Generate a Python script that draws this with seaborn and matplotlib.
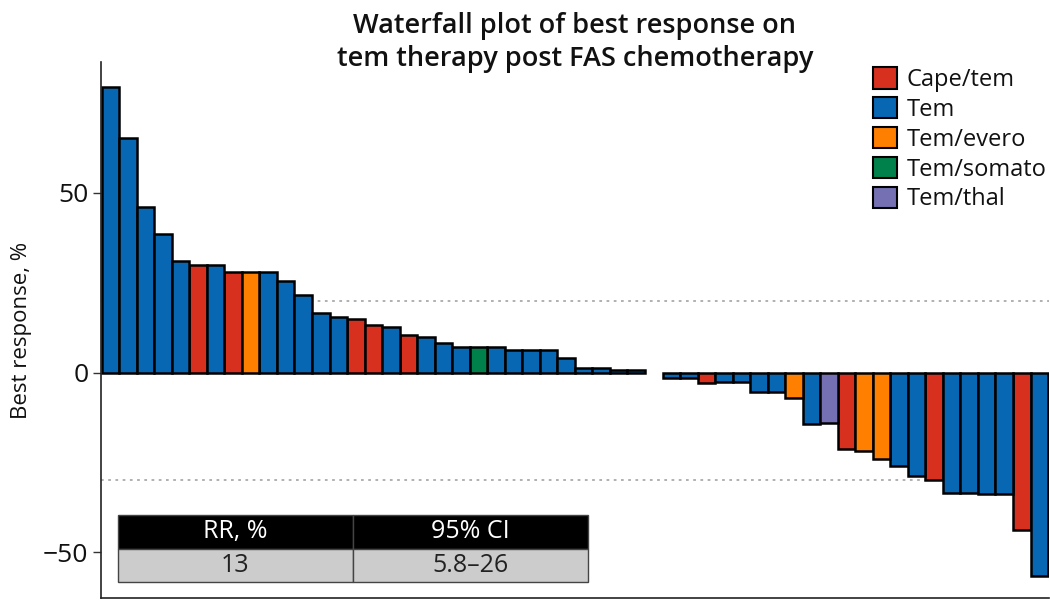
import numpy as np
import pandas as pd
import matplotlib
matplotlib.use("Agg")
import matplotlib.pyplot as plt
from matplotlib.patches import Patch
import seaborn as sns

# best response (%) per patient, sorted as in the waterfall
response = [79.4, 65.4, 46.1, 38.5, 31.1, 29.9, 29.9, 27.9, 27.9, 27.9,
            25.6, 21.7, 16.5, 15.4, 14.9, 13.3, 12.8, 10.5, 10.0, 8.1,
            7.2, 7.2, 7.2, 6.3, 6.3, 6.3, 4.1, 1.2, 1.2, 0.7,
            0.7, np.nan, -1.6, -1.6, -2.8, -2.5, -2.5, -5.5, -5.3, -7.2,
            -14.4, -14.1, -21.3, -21.8, -24.1, -26.0, -28.7, -30.0, -33.4, -33.4,
            -33.8, -33.8, -43.9, -56.5]
therapy = ["Tem", "Tem", "Tem", "Tem", "Tem", "Cape/tem", "Tem", "Cape/tem", "Tem/evero", "Tem",
           "Tem", "Tem", "Tem", "Tem", "Cape/tem", "Cape/tem", "Tem", "Cape/tem", "Tem", "Tem",
           "Tem", "Tem/somato", "Tem", "Tem", "Tem", "Tem", "Tem", "Tem", "Tem", "Tem",
           "Tem", "Tem", "Tem", "Tem", "Cape/tem", "Tem", "Tem", "Tem", "Tem", "Tem/evero",
           "Tem", "Tem/thal", "Cape/tem", "Tem/evero", "Tem/evero", "Tem", "Tem", "Cape/tem", "Tem", "Tem",
           "Tem", "Tem", "Cape/tem", "Tem"]
groups = ["Cape/tem", "Tem", "Tem/evero", "Tem/somato", "Tem/thal"]
colors = ["#d7301f", "#0767b3", "#ff7f00", "#00804a", "#7570b3"]

rr_header = ["RR, %", "95% CI"]
rr_values = ["13", "5.8\u201326"]

df = pd.DataFrame({"patient": [str(i) for i in range(len(response))],
                   "response": response, "therapy": therapy})

sns.set_theme(style="white")
plt.rcParams["font.family"] = ["Open Sans", "DejaVu Sans"]
plt.rcParams["text.color"] = "#111111"
plt.rcParams["axes.labelcolor"] = "#111111"
plt.rcParams["ytick.color"] = "#111111"

fig = plt.figure(figsize=(10.5, 6), dpi=100)
ax = fig.add_axes([0.096, 0.003, 0.903, 0.894])

ax.axhline(20, color="#aaaaaa", ls=(0, (1.5, 2.5)), lw=1.3, zorder=0)
ax.axhline(-30, color="#aaaaaa", ls=(0, (1.5, 2.5)), lw=1.3, zorder=0)

sns.barplot(data=df, x="patient", y="response", hue="therapy",
            order=df["patient"].tolist(), hue_order=groups,
            palette=dict(zip(groups, colors)), saturation=1, dodge=False, width=1.0,
            edgecolor="black", linewidth=1.8, legend=False, ax=ax, zorder=2)

ax.set_xlim(-0.55, len(response) - 0.45)
ax.set_ylim(-62.8, 86.5)
ax.set_yticks([-50, 0, 50])
ax.set_yticklabels(["\u221250", "0", "50"], fontsize=19)
ax.set_xticks([])
ax.set_xlabel("")
ax.set_ylabel("Best response, %", fontsize=16, labelpad=8)
ax.tick_params(axis="y", length=6, width=1, color="#333333", left=True, pad=3)
for s in ["top", "right"]:
    ax.spines[s].set_visible(False)
for s in ["left", "bottom"]:
    ax.spines[s].set_color("#222222")
    ax.spines[s].set_linewidth(1.2)

ax.set_title("Waterfall plot of best response on\ntem therapy post FAS chemotherapy",
             fontsize=19.5, fontweight="semibold", y=0.985, pad=3, linespacing=1.2,
             color="#111111")

handles = [Patch(facecolor=c, edgecolor="black", linewidth=1.5) for c in colors]
ax.legend(handles, groups, loc="upper right", bbox_to_anchor=(1.012, 1.016),
          frameon=False, fontsize=17, handlelength=1.0, handleheight=1.0,
          handletextpad=0.4, labelspacing=0.22, borderaxespad=0.2)

# response rate table
tbl = ax.table(cellText=[rr_values], colLabels=rr_header, cellLoc="center",
               bbox=[0.018, 0.03, 0.496, 0.125])
tbl.auto_set_font_size(False)
for (r, c), cell in tbl.get_celld().items():
    cell.set_edgecolor("#444444")
    cell.set_linewidth(1.0)
    if r == 0:
        cell.set_facecolor("black")
        cell.get_text().set_color("white")
    else:
        cell.set_facecolor("#cccccc")
        cell.get_text().set_color("#222222")
    cell.get_text().set_fontsize(18)

fig.savefig("out.png", dpi=100)
